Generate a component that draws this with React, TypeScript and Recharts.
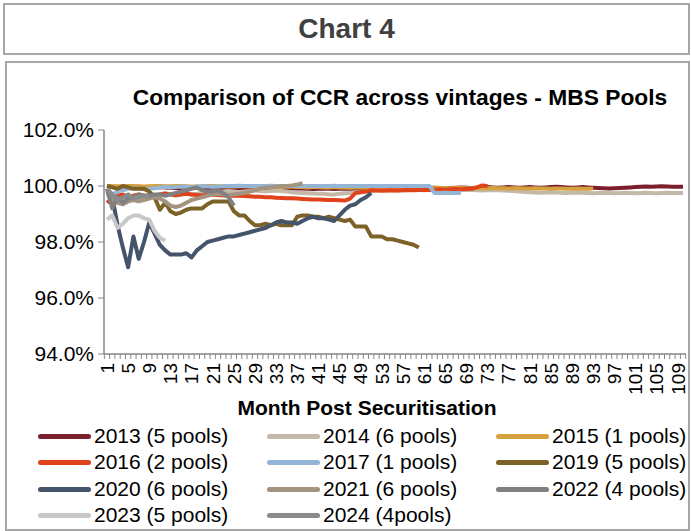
import * as React from 'react'
import { LineChart, Line, XAxis, YAxis } from 'recharts'

// month post securitisation (categories)
const months: number[] = Array.from({ length: 110 }, (_, i) => i + 1)

const yTicks = [94, 96, 98, 100, 102]

// CCR (%) by vintage
const v2013 = [
  100.0, 99.98, 99.97, 99.96, 99.95, 99.96, 99.97, 99.95, 99.94, 99.95,
  99.96, 99.95, 99.94, 99.93, 99.92, 99.93, 99.94, 99.93, 99.92, 99.93,
  99.92, 99.91, 99.92, 99.93, 99.92, 99.91, 99.9, 99.91, 99.92, 99.91,
  99.9, 99.91, 99.92, 99.91, 99.9, 99.91, 99.92, 99.91, 99.9, 99.89,
  99.9, 99.91, 99.9, 99.89, 99.9, 99.91, 99.9, 99.91, 99.92, 99.91,
  99.9, 99.91, 99.92, 99.93, 99.92, 99.91, 99.92, 99.93, 99.92, 99.91,
  99.92, 99.93, 99.94, 99.93, 99.92, 99.93, 99.94, 99.95, 99.94, 99.93,
  99.94, 99.95, 99.96, 99.95, 99.94, 99.95, 99.96, 99.95, 99.94, 99.95,
  99.96, 99.95, 99.94, 99.95, 99.96, 99.97, 99.96, 99.95, 99.94, 99.95,
  99.96, 99.95, 99.94, 99.93, 99.92, 99.91, 99.92, 99.93, 99.94, 99.95,
  99.96, 99.97, 99.98, 99.97, 99.98, 99.99, 99.98, 99.97, 99.97, 99.97,
]
const v2014 = [
  99.9, 99.7, 99.6, 99.5, 99.6, 99.55, 99.6, 99.65, 99.7, 99.65,
  99.7, 99.75, 99.7, 99.65, 99.7, 99.75, 99.7, 99.72, 99.75, 99.78,
  99.8, 99.78, 99.8, 99.82, 99.8, 99.78, 99.8, 99.82, 99.84, 99.82,
  99.8, 99.82, 99.84, 99.82, 99.8, 99.78, 99.76, 99.75, 99.74, 99.73,
  99.72, 99.72, 99.7, 99.7, 99.72, 99.74, 99.75, 99.76, 99.78, 99.8,
  99.82, 99.84, 99.85, 99.86, 99.85, 99.84, 99.85, 99.86, 99.87, 99.86,
  99.85, 99.86, 99.87, 99.88, 99.87, 99.86, 99.85, 99.86, 99.87, 99.86,
  99.85, 99.84, 99.85, 99.86, 99.85, 99.84, 99.83, 99.82, 99.8, 99.79,
  99.78, 99.77, 99.76, 99.77, 99.78, 99.77, 99.76, 99.75, 99.76, 99.77,
  99.76, 99.75, 99.74, 99.75, 99.76, 99.75, 99.74, 99.75, 99.76, 99.75,
  99.74, 99.75, 99.76, 99.75, 99.74, 99.75, 99.76, 99.75, 99.75, 99.75,
]
const v2015 = [
  100.0, 99.99, 99.98, 99.99, 100.0, 100.0, 99.99, 99.98, 99.99, 100.0,
  100.0, 99.99, 99.99, 100.0, 100.0, 99.99, 99.98, 99.98, 99.99, 100.0,
  100.0, 99.99, 99.99, 99.98, 99.98, 99.99, 99.99, 99.98, 99.97, 99.98,
  99.98, 99.97, 99.97, 99.96, 99.97, 99.97, 99.96, 99.96, 99.95, 99.96,
  99.96, 99.95, 99.95, 99.96, 99.95, 99.95, 99.94, 99.95, 99.95, 99.94,
  99.94, 99.95, 99.94, 99.94, 99.93, 99.94, 99.94, 99.93, 99.93, 99.94,
  99.93, 99.93, 99.94, 99.93, 99.93, 99.92, 99.93, 99.93, 99.92, 99.92,
  99.93, 99.92, 99.92, 99.93, 99.92, 99.92, 99.91, 99.92, 99.92, 99.91,
  99.91, 99.92, 99.91, 99.91, 99.9, 99.91, 99.91, 99.9, 99.9, 99.91,
  99.9, 99.9, 99.91,
]
const v2016 = [
  99.4, 99.55, 99.65, 99.7, 99.6, 99.65, 99.7, 99.65, 99.6, 99.65,
  99.7, 99.72, 99.7, 99.68, 99.7, 99.72, 99.7, 99.68, 99.66, 99.68,
  99.7, 99.68, 99.66, 99.65, 99.66, 99.65, 99.64, 99.63, 99.62, 99.62,
  99.6, 99.6, 99.58, 99.57, 99.56, 99.56, 99.55, 99.54, 99.53, 99.52,
  99.52, 99.51, 99.5, 99.5, 99.49, 99.48, 99.55, 99.75, 99.78, 99.8,
  99.85, 99.84, 99.83, 99.84, 99.85, 99.84, 99.85, 99.86, 99.85, 99.86,
  99.87, 99.86, 99.87, 99.88, 99.87, 99.88, 99.89, 99.88, 99.89, 99.9,
  99.95, 100.02, 100.0,
]
const v2017 = [
  99.6, 99.7, 99.8, 99.85, 99.9, 99.92, 99.9, 99.88, 99.9, 99.92,
  99.95, 99.97, 99.95, 99.96, 99.98, 99.97, 99.96, 99.98, 100.0, 99.98,
  99.97, 99.98, 99.99, 100.0, 100.0, 100.01, 100.0, 100.0, 100.0, 100.0,
  100.0, 100.01, 100.0, 100.0, 100.0, 100.0, 100.01, 100.0, 100.0, 100.0,
  100.0, 100.0, 100.0, 100.01, 100.0, 100.0, 100.0, 100.0, 100.0, 100.0,
  100.0, 100.0, 100.0, 100.0, 100.0, 100.0, 100.0, 100.0, 100.0, 100.0,
  100.0, 100.0, 99.75, 99.75, 99.76, 99.75, 99.75, 99.76,
]
const v2019 = [
  100.0, 99.95, 99.9, 100.0, 99.95, 99.9, 99.9, 99.9, 99.8, 99.6,
  99.15, 99.4, 99.1, 99.0, 99.05, 99.15, 99.2, 99.2, 99.2, 99.35,
  99.45, 99.45, 99.45, 99.45, 99.1, 98.95, 98.95, 98.75, 98.6, 98.6,
  98.65, 98.6, 98.65, 98.6, 98.6, 98.6, 98.9, 98.95, 98.95, 98.9,
  98.9, 98.85, 98.9, 98.85, 98.8, 98.75, 98.8, 98.55, 98.55, 98.55,
  98.2, 98.2, 98.2, 98.1, 98.1, 98.05, 98.0, 97.95, 97.9, 97.8,
]
const v2020 = [
  99.8, 99.6, 98.6, 97.8, 97.1, 98.2, 97.4, 98.0, 98.7, 98.3,
  97.9, 97.7, 97.55, 97.55, 97.55, 97.6, 97.45, 97.7, 97.85, 98.0,
  98.05, 98.1, 98.15, 98.2, 98.2, 98.25, 98.3, 98.35, 98.4, 98.45,
  98.5, 98.6, 98.7, 98.75, 98.7, 98.7, 98.65, 98.75, 98.85, 98.9,
  98.85, 98.85, 98.8, 98.75, 98.95, 99.15, 99.3, 99.35, 99.5, 99.6,
  99.75,
]
const v2021 = [
  99.9, 99.5, 99.4, 99.35, 99.45, 99.5, 99.45, 99.5, 99.55, 99.6,
  99.55, 99.45, 99.3, 99.25, 99.3, 99.4, 99.5, 99.55, 99.6, 99.65,
  99.7, 99.72, 99.7, 99.68, 99.7, 99.72, 99.75, 99.8, 99.85, 99.9,
  99.95, 99.95, 99.98, 100.0, 100.0, 100.02, 100.05, 100.1,
]
const v2022 = [
  99.9, 99.2, 99.6, 99.4, 99.55, 99.6, 99.7, 99.65, 99.65, 99.7,
  99.7, 99.65, 99.7, 99.75, 99.8, 99.85, 99.9, 99.95, 99.85, 99.8,
  99.8, 99.85, 99.75, 99.6, 99.3,
]
const v2023 = [98.8, 98.95, 98.5, 98.65, 98.85, 98.95, 98.95, 98.85, 98.8, 98.4, 98.15, 98.05]
const v2024 = [99.9, 99.7, 99.5, 99.6, 99.7, 99.55, 99.6, 99.65, 99.6]

const SERIES = [
  { key: 's2013', name: '2013 (5 pools)', color: '#7B1F2E', values: v2013 },
  { key: 's2014', name: '2014 (6 pools)', color: '#C4B8A8', values: v2014 },
  { key: 's2015', name: '2015 (1 pools)', color: '#D4A13C', values: v2015 },
  { key: 's2016', name: '2016 (2 pools)', color: '#E0421B', values: v2016 },
  { key: 's2017', name: '2017 (1 pools)', color: '#95B5D6', values: v2017 },
  { key: 's2019', name: '2019 (5 pools)', color: '#7D6228', values: v2019 },
  { key: 's2020', name: '2020 (6 pools)', color: '#44546A', values: v2020 },
  { key: 's2021', name: '2021 (6 pools)', color: '#A39480', values: v2021 },
  { key: 's2022', name: '2022 (4 pools)', color: '#808080', values: v2022 },
  { key: 's2023', name: '2023 (5 pools)', color: '#C8C8C8', values: v2023 },
  { key: 's2024', name: '2024 (4pools)', color: '#8A8A8A', values: v2024 },
]

const data = months.map((m, i) => {
  const row: any = { month: m }
  SERIES.forEach((s) => {
    if (i < s.values.length) row[s.key] = s.values[i]
  })
  return row
})

const FONT = '"Liberation Sans", Arial, sans-serif'
const AXIS = '#868686'
const HALF = 2.64

function MonthTick(props: any) {
  const { x, y, index } = props
  const last = index === months.length - 1
  return (
    <g>
      <line x1={x - HALF} y1={y} x2={x - HALF} y2={y + 5} stroke={AXIS} />
      {last ? <line x1={x + HALF} y1={y} x2={x + HALF} y2={y + 5} stroke={AXIS} /> : null}
      {index % 4 === 0 ? (
        <text
          x={x}
          y={y + 9}
          transform={`rotate(-90, ${x}, ${y + 9})`}
          textAnchor="end"
          dy="0.36em"
          fontSize={19}
          fontFamily={FONT}
          fill="#000"
        >
          {props.payload.value}
        </text>
      ) : null}
    </g>
  )
}

export default function App() {
  const legendCols = [38, 267, 496]
  const legendRows = [436, 462, 489, 515]
  return (
    <div style={{ position: 'absolute', left: 0, top: 0, width: 691, height: 531, background: '#fff', fontFamily: FONT, overflow: 'hidden' }}>
      <div style={{ position: 'absolute', left: 3, top: 3, width: 683, height: 48, border: '2px solid #A6A6A6', display: 'flex', alignItems: 'center', justifyContent: 'center', fontSize: 28, fontWeight: 700, color: '#404040' }}>
        Chart 4
      </div>
      <div style={{ position: 'absolute', left: 5, top: 61, width: 681, height: 466, border: '2px solid #A6A6A6' }} />
      <div style={{ position: 'absolute', left: 0, top: 84, width: 800, textAlign: 'center', fontSize: 22.8, fontWeight: 700, color: '#000', lineHeight: '26px' }}>
        Comparison of CCR across vintages - MBS Pools
      </div>
      <div style={{ position: 'absolute', left: 0, top: 396, width: 734, textAlign: 'center', fontSize: 21, fontWeight: 700, color: '#000', lineHeight: '24px' }}>
        Month Post Securitisation
      </div>
      <div style={{ position: 'absolute', left: 0, top: 0 }}>
        <LineChart width={691} height={531} data={data} margin={{ top: 130, right: 5, bottom: 117, left: 0 }}>
          <YAxis
            domain={[94, 102]}
            ticks={yTicks}
            allowDataOverflow
            width={104}
            tickSize={6}
            tickMargin={4}
            tickFormatter={(v: number) => `${v.toFixed(1)}%`}
            tick={{ fontSize: 21, fill: '#000', fontFamily: FONT }}
            axisLine={{ stroke: AXIS, strokeWidth: 1.5 }}
            tickLine={{ stroke: AXIS }}
          />
          <XAxis
            dataKey="month"
            interval={0}
            height={60}
            padding={{ left: 3, right: 3 }}
            tickSize={0}
            tickMargin={0}
            tickLine={false}
            axisLine={{ stroke: AXIS, strokeWidth: 1.5 }}
            tick={<MonthTick />}
          />
          {SERIES.map((s) => (
            <Line
              key={s.key}
              dataKey={s.key}
              name={s.name}
              stroke={s.color}
              strokeWidth={4}
              strokeLinejoin="round"
              dot={false}
              activeDot={false}
              isAnimationActive={false}
            />
          ))}
        </LineChart>
      </div>
      {SERIES.map((s, i) => {
        const left = legendCols[i % 3]
        const top = legendRows[Math.floor(i / 3)]
        return (
          <div key={s.key} style={{ position: 'absolute', left, top: top - 13, height: 26, display: 'flex', alignItems: 'center', whiteSpace: 'nowrap' }}>
            <div style={{ width: 53, height: 5, borderRadius: 3, background: s.color, marginRight: 3 }} />
            <span style={{ fontSize: 21, color: '#000' }}>{s.name}</span>
          </div>
        )
      })}
    </div>
  )
}
